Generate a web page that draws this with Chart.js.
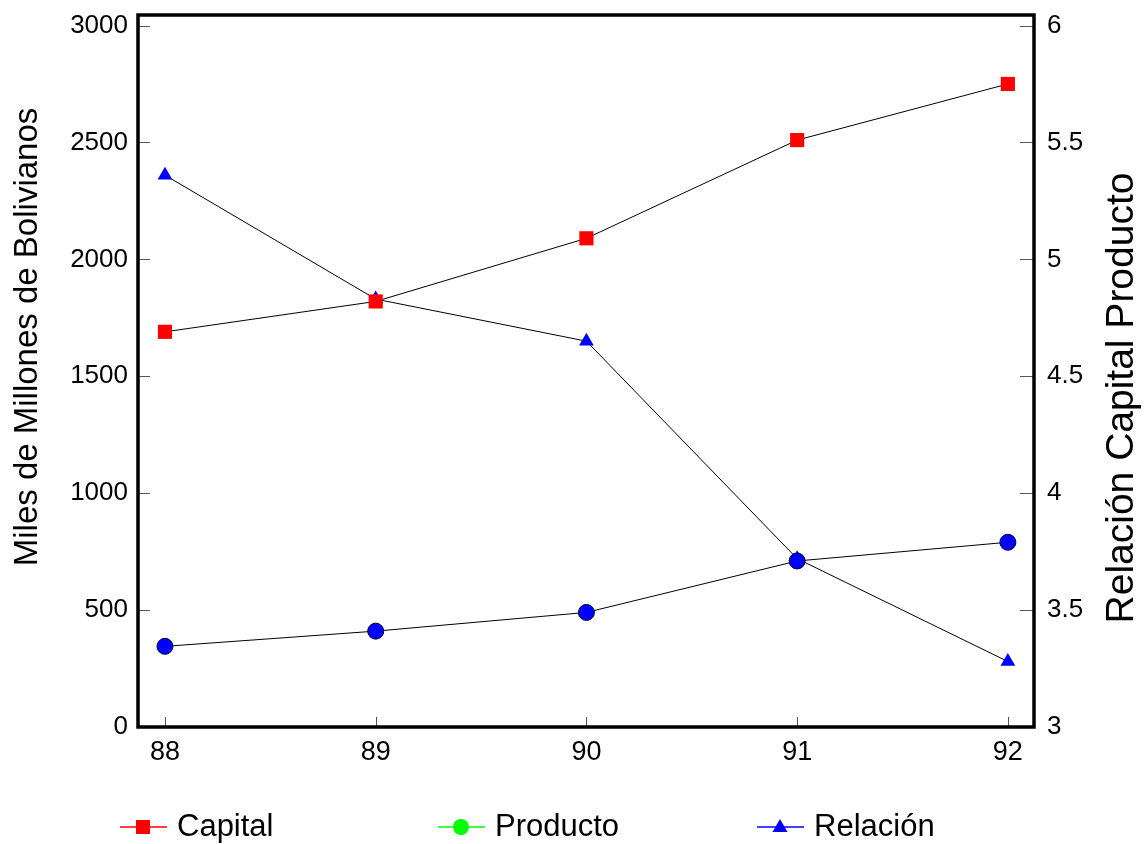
<!DOCTYPE html>
<html lang="es">
<head>
<meta charset="utf-8">
<title>Capital, Producto y Relación</title>
<script src="https://cdn.jsdelivr.net/npm/chart.js@4/dist/chart.umd.min.js"></script>
<style>
  html, body { margin: 0; padding: 0; background: #fff; }
  #wrap { width: 1145px; height: 844px; }
</style>
</head>
<body>
<div id="wrap"><canvas id="grafico" width="1145" height="844"></canvas></div>
<script>
// Datos
const anios = ['88', '89', '90', '91', '92'];
const capital = [1690, 1820, 2090, 2510, 2750];
const producto = [345, 410, 490, 710, 790];
const relacion = [5.36, 4.83, 4.65, 3.72, 3.28];
const ticksIzq = [0, 500, 1000, 1500, 2000, 2500, 3000];
const ticksDer = [3, 3.5, 4, 4.5, 5, 5.5, 6];
const tituloIzq = 'Miles de Millones de Bolivianos';
const tituloDer = 'Relación Capital Producto';

const FUENTE = '"Liberation Sans", Arial, sans-serif';

// Estilo de la leyenda (linea + marcador, como en Excel)
const leyenda = [
    { texto: 'Capital', color: '#FF0000', marca: 'rect', x: 120 },
    { texto: 'Producto', color: '#00FF00', marca: 'circle', x: 438 },
    { texto: 'Relación', color: '#0000FF', marca: 'triangle', x: 757 }
];

function puntos(valores) {
    return valores.map((v, i) => ({ x: Number(anios[i]), y: v }));
}

// sin relleno automatico alrededor de los ejes
function sinRelleno(s) {
    s.paddingTop = 0; s.paddingBottom = 0; s.paddingLeft = 0; s.paddingRight = 0;
}

function dibujarMarca(ctx, tipo, x, y, color) {
    ctx.fillStyle = color;
    ctx.beginPath();
    if (tipo === 'rect') {
        ctx.rect(x - 7, y - 7, 14, 14);
    } else if (tipo === 'circle') {
        ctx.arc(x, y, 8, 0, Math.PI * 2);
    } else {
        ctx.moveTo(x, y - 8);
        ctx.lineTo(x + 7.5, y + 5);
        ctx.lineTo(x - 7.5, y + 5);
        ctx.closePath();
    }
    ctx.fill();
}

// Marco, marcas hacia adentro, titulos de ejes y leyenda
const extras = {
    id: 'extras',
    afterDraw(chart) {
        const { ctx, chartArea: a, scales } = chart;
        ctx.save();

        ctx.strokeStyle = '#555';
        ctx.lineWidth = 1;
        ctx.beginPath();
        scales.y.ticks.forEach(t => {
            const p = Math.round(scales.y.getPixelForValue(t.value)) + 0.5;
            ctx.moveTo(a.left, p); ctx.lineTo(a.left + 12, p);
        });
        scales.y2.ticks.forEach(t => {
            const p = Math.round(scales.y2.getPixelForValue(t.value)) + 0.5;
            ctx.moveTo(a.right - 14, p); ctx.lineTo(a.right, p);
        });
        scales.x.ticks.forEach(t => {
            const p = Math.round(scales.x.getPixelForValue(t.value)) + 0.5;
            ctx.moveTo(p, a.bottom); ctx.lineTo(p, a.bottom - 10);
        });
        ctx.stroke();

        // marco del area de trazado
        ctx.strokeStyle = '#000';
        ctx.lineWidth = 3.5;
        ctx.strokeRect(a.left, a.top, a.right - a.left, a.bottom - a.top);

        // titulos de los ejes
        ctx.fillStyle = '#000';
        ctx.textAlign = 'center';
        ctx.textBaseline = 'middle';
        ctx.save();
        ctx.font = '33px ' + FUENTE;
        ctx.translate(28, 337);
        ctx.rotate(-Math.PI / 2);
        ctx.fillText(tituloIzq, 0, 0);
        ctx.restore();
        ctx.save();
        ctx.font = '39px ' + FUENTE;
        ctx.translate(1122, 398);
        ctx.rotate(-Math.PI / 2);
        ctx.fillText(tituloDer, 0, 0);
        ctx.restore();

        // leyenda
        const yl = 827;
        ctx.font = '31px ' + FUENTE;
        ctx.textAlign = 'left';
        leyenda.forEach(item => {
            ctx.strokeStyle = item.color;
            ctx.lineWidth = 1.5;
            ctx.beginPath();
            ctx.moveTo(item.x, yl); ctx.lineTo(item.x + 47, yl);
            ctx.stroke();
            dibujarMarca(ctx, item.marca, item.x + 23, yl, item.color);
            ctx.fillStyle = '#000';
            ctx.fillText(item.texto, item.x + 57, yl);
        });
        ctx.restore();
    }
};

const ctx = document.getElementById('grafico').getContext('2d');
const grafico = new Chart(ctx, {
    type: 'line',
    data: {
        datasets: [
            {
                label: 'Capital',
                data: puntos(capital),
                yAxisID: 'y',
                borderColor: '#000',
                borderWidth: 1,
                pointStyle: 'rect',
                pointRadius: 10,
                pointBackgroundColor: '#FF0000',
                pointBorderWidth: 0
            },
            {
                label: 'Producto',
                data: puntos(producto),
                yAxisID: 'y',
                borderColor: '#000',
                borderWidth: 1,
                pointStyle: 'circle',
                pointRadius: 8,
                pointBackgroundColor: '#0000FF',
                pointBorderColor: '#000033',
                pointBorderWidth: 1
            },
            {
                label: 'Relación',
                data: puntos(relacion),
                yAxisID: 'y2',
                borderColor: '#000',
                borderWidth: 1,
                pointStyle: 'triangle',
                pointRadius: 8.5,
                pointBackgroundColor: '#0000FF',
                pointBorderWidth: 0
            }
        ]
    },
    options: {
        responsive: false,
        animation: false,
        layout: { padding: { top: 15, left: 0, right: 0, bottom: 0 } },
        plugins: {
            legend: { display: false },
            tooltip: { enabled: false }
        },
        scales: {
            x: {
                type: 'linear',
                min: 87.872,
                max: 92.124,
                afterBuildTicks: s => { s.ticks = anios.map(a => ({ value: Number(a) })); },
                afterFit: s => { s.height = 117; sinRelleno(s); },
                grid: { display: false, drawTicks: false },
                border: { display: false },
                ticks: {
                    callback: v => String(v),
                    color: '#000',
                    font: { family: FUENTE, size: 27 },
                    padding: 9,
                    maxRotation: 0,
                    autoSkip: false
                }
            },
            y: {
                position: 'left',
                min: 0,
                max: 3045,
                afterBuildTicks: s => { s.ticks = ticksIzq.map(v => ({ value: v })); },
                afterFit: s => { s.width = 138; sinRelleno(s); },
                grid: { display: false, drawTicks: false },
                border: { display: false },
                ticks: {
                    callback: v => String(v),
                    color: '#000',
                    font: { family: FUENTE, size: 26 },
                    padding: 10
                }
            },
            y2: {
                position: 'right',
                min: 3,
                max: 6.045,
                afterBuildTicks: s => { s.ticks = ticksDer.map(v => ({ value: v })); },
                afterFit: s => { s.width = 111; sinRelleno(s); },
                grid: { display: false, drawTicks: false },
                border: { display: false },
                ticks: {
                    callback: v => String(v),
                    color: '#000',
                    font: { family: FUENTE, size: 26 },
                    padding: 13
                }
            }
        }
    },
    plugins: [extras]
});
</script>
</body>
</html>
